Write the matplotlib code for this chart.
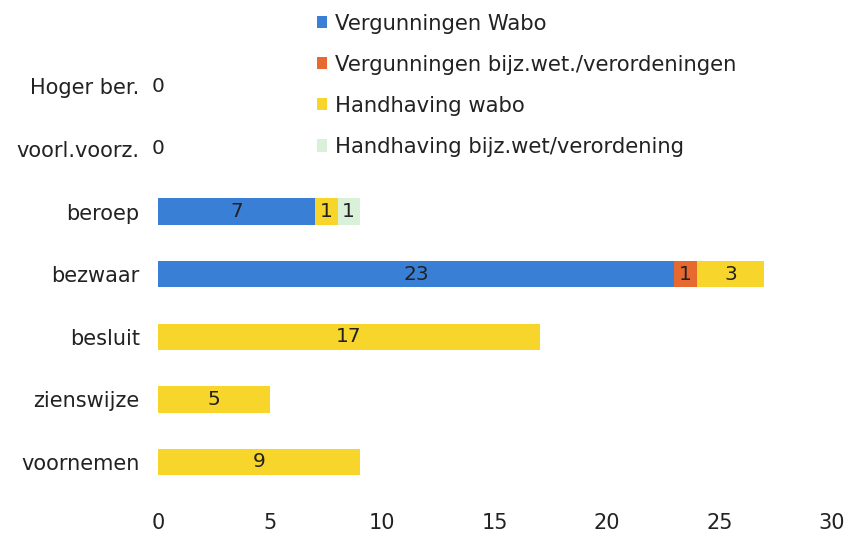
import matplotlib.pyplot as plt
import numpy as np

categories = ['voornemen', 'zienswijze', 'besluit', 'bezwaar', 'beroep', 'voorl.voorz.', 'Hoger ber.']
series_names = ['Vergunningen Wabo', 'Vergunningen bijz.wet./verordeningen',
                'Handhaving wabo', 'Handhaving bijz.wet/verordening']
verg_wabo = [0, 0, 0, 23, 7, 0, 0]
verg_bijz = [0, 0, 0, 1, 0, 0, 0]
handh_wabo = [9, 5, 17, 3, 1, 0, 0]
handh_bijz = [0, 0, 0, 0, 1, 0, 0]
colors = ['#3a7fd6', '#e8692f', '#f7d52a', '#d9f1d9']

fig = plt.figure(figsize=(8.53, 5.35), dpi=100)
ax = fig.add_axes([0.185, 0.078, 0.79, 0.819])

y = np.arange(len(categories))
left = np.zeros(len(categories))
for name, vals, col in zip(series_names, [verg_wabo, verg_bijz, handh_wabo, handh_bijz], colors):
    vals = np.array(vals)
    ax.barh(y, vals, left=left, height=0.42, color=col, label=name)
    for yi, (l, v) in enumerate(zip(left, vals)):
        if v > 0:
            ax.text(l + v / 2, yi, str(v), ha='center', va='center', fontsize=14.5, color='#222222')
    left = left + vals

# zero labels for empty rows
for yi, tot in enumerate(left):
    if tot == 0:
        ax.text(0, yi, '0', ha='center', va='center', fontsize=14.5, color='#222222')

ax.set_xlim(0, 30)
ax.set_ylim(-0.5, 6.5)
ax.set_xticks(range(0, 31, 5))
ax.set_yticks(y)
ax.set_yticklabels(categories)
ax.tick_params(axis='both', length=0, labelsize=15, colors='#222222')
ax.tick_params(axis='x', pad=14)
ax.tick_params(axis='y', pad=13)
for s in ax.spines.values():
    s.set_visible(False)

fig.legend(loc='upper left', bbox_to_anchor=(0.349, 1.01), frameon=False,
           fontsize=15.2, handlelength=0.5, handleheight=0.5, handletextpad=0.35,
           labelspacing=1.0, labelcolor='#222222')

fig.savefig('out.png', dpi=100)
